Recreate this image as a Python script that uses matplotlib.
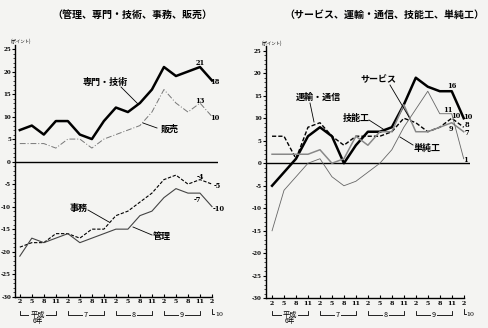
import matplotlib
matplotlib.use("Agg")
import matplotlib.pyplot as plt
from matplotlib.lines import Line2D

plt.rcParams['font.family'] = ['Noto Sans CJK JP', 'DejaVu Sans']

W, H = 488, 328

# quarters: 平成6年2月 ... 平成10年2月
months = ["2", "5", "8", "11"] * 4 + ["2"]
x = list(range(len(months)))

# left panel
senmon = [7, 8, 6, 9, 9, 6, 5, 9, 12, 11, 13, 16, 21, 19, 20, 21, 18]
hanbai = [4, 4, 4, 3, 5, 5, 3, 5, 6, 7, 8, 11, 16, 13, 11, 13, 10]
jimu = [-19, -18, -18, -16, -16, -17, -15, -15, -12, -11, -9, -7, -4, -3, -5, -4, -5]
kanri = [-21, -17, -18, -17, -16, -18, -17, -16, -15, -15, -12, -11, -8, -6, -7, -7, -10]

# right panel
service = [-5, -2, 1, 6, 8, 6, 0, 4, 7, 7, 8, 13, 19, 17, 16, 16, 10]
unyu = [6, 6, 1, 8, 9, 6, 4, 6, 6, 6, 7, 10, 9, 7, 8, 10, 8]
ginou = [2, 2, 2, 2, 3, 0, 1, 6, 4, 7, 7, 13, 7, 7, 8, 9, 7]
tanjun = [-15, -6, -3, 0, 1, -3, -5, -4, -2, 0, 3, 8, 12, 16, 11, 11, 1]

fig = plt.figure(figsize=(W / 100, H / 100), dpi=100)
fig.patch.set_facecolor('#f4f4f2')


def fx(px):
    return px / W


def fy(py):
    return 1 - py / H


def make_axes(left_px, right_px, top_px, bot_px, x0):
    ax = fig.add_axes([fx(left_px), fy(bot_px), fx(right_px - left_px),
                       (bot_px - top_px) / H])
    ax.set_facecolor('none')
    ax.set_ylim(-30, 26)
    ax.set_xlim(x0, 16.5)
    for s in ['top', 'right']:
        ax.spines[s].set_visible(False)
    ax.spines['left'].set_linewidth(1.0)
    ax.spines['bottom'].set_linewidth(1.0)
    ax.spines['bottom'].set_bounds(x0, 16)
    ax.set_yticks(range(-30, 26, 5))
    ax.set_yticklabels([str(v) for v in range(-30, 26, 5)], fontsize=4.0,
                       family='DejaVu Serif', fontweight='bold')
    ax.set_yticks(range(-30, 26), minor=True)
    ax.set_xticks(x)
    ax.set_xticklabels(months, fontsize=4.5, family='DejaVu Serif',
                       fontweight='bold')
    ax.tick_params(axis='y', which='major', length=2.0, width=0.8, pad=0.8)
    ax.tick_params(axis='y', which='minor', length=1.2, width=0.5)
    ax.tick_params(axis='x', length=2.5, width=0.8, pad=2, direction='in')
    ax.axhline(0, color='black', lw=1.0)
    ax.text(-0.02, 1.0, "(ポイント)", transform=ax.transAxes, fontsize=3.2,
            ha='left', va='bottom')
    return ax


axL = make_axes(15, 218, 44.5, 296.7, -0.4)
axR = make_axes(265.7, 469.7, 46.2, 298.3, -0.53)

axL.plot(x, senmon, color='black', lw=1.8)
axL.plot(x, hanbai, color='#777777', lw=0.7, ls=(0, (6, 2, 1, 2)))
axL.plot(x, jimu, color='black', lw=0.8, ls=(0, (3, 1.5)))
axL.plot(x, kanri, color='#444444', lw=0.8)

axR.plot(x, service, color='black', lw=1.8)
axR.plot(x, unyu, color='black', lw=1.0, ls=(0, (3, 1.5)))
axR.plot(x, ginou, color='#888888', lw=1.1)
axR.plot(x, tanjun, color='#666666', lw=0.6)


def label(txt, pos, tip, start, size=6.5):
    fig.text(fx(pos[0]), fy(pos[1]), txt, fontsize=size, fontweight='bold',
             ha='center', va='center')
    fig.add_artist(Line2D([fx(start[0]), fx(tip[0])], [fy(start[1]), fy(tip[1])],
                          color='black', lw=0.6))


def num(txt, px, py):
    fig.text(fx(px), fy(py), txt, fontsize=4.8, family='DejaVu Serif',
             fontweight='bold', ha='center', va='center')


# left labels
label("専門・技術", (105, 82), (138, 104), (121, 87))
label("販売", (170, 129), (143, 123), (157, 128))
label("事務", (79, 208), (109, 222), (88, 210))
label("管理", (162, 237), (133, 227), (152, 235))
for t, px, py in [("21", 200, 63), ("18", 215, 82), ("13", 200, 101),
                  ("10", 215, 118), ("-4", 200, 177), ("-5", 217, 186),
                  ("-7", 197, 200), ("-10", 219, 209)]:
    num(t, px, py)

# right labels
label("サービス", (378, 80), (409, 117), (390, 85))
label("運輸・通信", (318, 97), (314, 122), (310, 103))
label("技能工", (356, 118), (383, 129), (369, 120))
label("単純工", (427, 148), (400, 137), (413, 145))
for t, px, py in [("16", 452, 86), ("10", 468, 117), ("11", 448, 110),
                  ("10", 456, 116), ("9", 451, 129), ("8", 467, 125),
                  ("7", 467, 133), ("1", 466, 160)]:
    num(t, px, py)

# titles
fig.text(fx(132), fy(15), "（管理、専門・技術、事務、販売）", fontsize=7.2,
         ha='center', va='center', fontweight='bold')
fig.text(fx(384), fy(15), "（サービス、運輸・通信、技能工、単純工）", fontsize=7.2,
         ha='center', va='center', fontweight='bold')


# year brackets under the x axis
def brackets(ax):
    tr = ax.get_xaxis_transform()
    bot = ax.get_position().y0 * H
    height = ax.get_position().height * H

    def yf(py):
        return ((H - py) - bot) / height

    years = ["平成", "7", "8", "9"]
    for i, yr in enumerate(years):
        a, b = 4 * i, 4 * i + 3
        ax.add_line(Line2D([a, a, b, b], [yf(311), yf(315), yf(315), yf(311)],
                           transform=tr, color='black', lw=0.6, clip_on=False))
        ax.text((a + b) / 2, yf(315), yr, transform=tr, fontsize=5.2,
                ha='center', va='center', clip_on=False,
                bbox=dict(boxstyle='square,pad=0.15', fc='#f4f4f2', ec='none'))
    ax.text(1.5, yf(321.5), "6年", transform=tr, fontsize=4.8, ha='center',
            va='center', clip_on=False)
    ax.add_line(Line2D([16, 16, 16.2], [yf(309), yf(314), yf(314)],
                       transform=tr, color='black', lw=0.6, clip_on=False))
    ax.text(16.25, yf(314), "10", transform=tr, fontsize=4.5,
            family='DejaVu Serif', ha='left', va='center', clip_on=False)


brackets(axL)
brackets(axR)

fig.savefig("out.png", dpi=100, facecolor=fig.get_facecolor())
